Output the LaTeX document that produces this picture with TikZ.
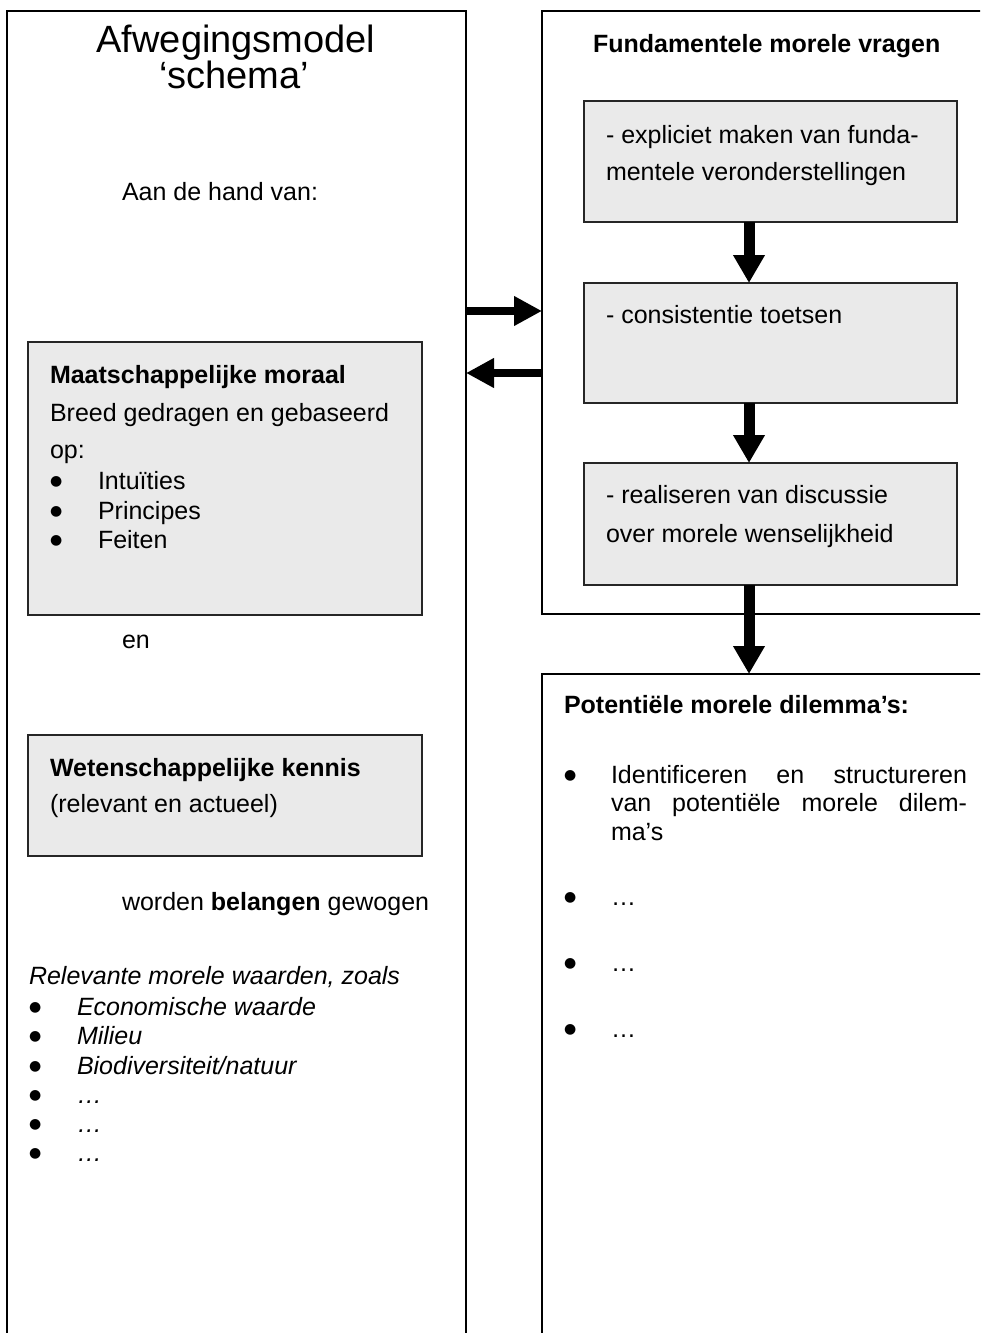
\documentclass[tikz,border=0pt]{standalone}
\usepackage{fontspec}
\setmainfont{Liberation Sans}
\newfontfamily\dejavu{DejaVu Sans}
\usetikzlibrary{arrows.meta,fit}
\definecolor{boxgray}{HTML}{EAEAEA}
\newcommand\blt{\raisebox{1.8pt}{\dejavu\fontsize{7}{8}\selectfont ●}}
\begin{document}
\begin{tikzpicture}[x=0.5pt,y=-0.5pt,
  outer/.style={draw=black,line width=1pt,inner sep=0pt,outer sep=0pt},
  graybox/.style={draw=black!85,fill=boxgray,line width=0.8pt,inner sep=0pt,outer sep=0pt},
  txt/.style={anchor=base west,inner sep=0pt,outer sep=0pt,font=\fontsize{12.5}{15}\selectfont},
  ttl/.style={anchor=base,inner sep=0pt,outer sep=0pt,font=\fontsize{19}{22}\selectfont},
  harrow/.style={line width=4pt,-{Triangle[width=14pt,length=14pt]}},
  varrow/.style={line width=5.5pt,-{Triangle[width=15pt,length=14pt]}}
]
\useasboundingbox (0,0) rectangle (980,1333);
\clip (0,0) rectangle (980,1333);
\fill[white] (0,0) rectangle (980,1333);

% outer boxes
\node[outer,fit={(7,11) (466,1345)}] (L) {};
\node[outer,fit={(542,11) (1000,614)}] (F) {};
\node[outer,fit={(542,674) (1000,1345)}] (P) {};

% left column
\node[ttl] (t1) at (236,52) {Afwegingsmodel};
\node[ttl] (t2) at (234,88) {‘schema’};
\node[txt] (adh) at (122,200) {Aan de hand van:};

\node[graybox,fit={(28,342) (422,615)}] (M) {};
\node[txt] (m1) at (50,383) {\bfseries Maatschappelijke moraal};
\node[txt] (m2) at (50,421) {Breed gedragen en gebaseerd};
\node[txt] (m3) at (50,458) {op:};
\node[txt] (mb1) at (50,489) {\blt};
\node[txt] (mi1) at (98,489) {Intuïties};
\node[txt] (mb2) at (50,519) {\blt};
\node[txt] (mi2) at (98,519) {Principes};
\node[txt] (mb3) at (50,548) {\blt};
\node[txt] (mi3) at (98,548) {Feiten};

\node[txt] (en) at (122,648) {en};

\node[graybox,fit={(28,735) (422,856)}] (W) {};
\node[txt] (w1) at (50,776) {\bfseries Wetenschappelijke kennis};
\node[txt] (w2) at (50,812) {(relevant en actueel)};

\node[txt] (wbg) at (122,910) {worden \textbf{belangen} gewogen};

\node[txt] (rel) at (29,984) {\itshape Relevante morele waarden, zoals};
\node[txt] (rb1) at (29,1015) {\blt};
\node[txt] (ri1) at (77,1015) {\itshape Economische waarde};
\node[txt] (rb2) at (29,1044) {\blt};
\node[txt] (ri2) at (77,1044) {\itshape Milieu};
\node[txt] (rb3) at (29,1074) {\blt};
\node[txt] (ri3) at (77,1074) {\itshape Biodiversiteit/natuur};
\node[txt] (rb4) at (29,1103) {\blt};
\node[txt] (ri4) at (77,1103) {\itshape …};
\node[txt] (rb5) at (29,1132) {\blt};
\node[txt] (ri5) at (77,1132) {\itshape …};
\node[txt] (rb6) at (29,1161) {\blt};
\node[txt] (ri6) at (77,1161) {\itshape …};

% right column
\node[txt] (fh) at (593,52) {\bfseries Fundamentele morele vragen};

\node[graybox,fit={(584,101) (957,222)}] (g1) {};
\node[txt] (g1a) at (606,143) {- expliciet maken van funda-};
\node[txt] (g1b) at (606,180) {mentele veronderstellingen};

\node[graybox,fit={(584,283) (957,403)}] (g2) {};
\node[txt] (g2a) at (606,323) {- consistentie toetsen};

\node[graybox,fit={(584,463) (957,585)}] (g3) {};
\node[txt] (g3a) at (606,503) {- realiseren van discussie};
\node[txt] (g3b) at (606,542) {over morele wenselijkheid};

\node[txt] (ph) at (564,713) {\bfseries Potentiële morele dilemma’s:};
\node[txt] (pb1) at (564,783) {\blt};
\node[txt] (pi1) at (611,783) {\makebox[178pt][s]{Identificeren en structureren}};
\node[txt] (pi1b) at (611,811) {\makebox[178pt][s]{van potentiële morele dilem-}};
\node[txt] (pi1c) at (611,840) {ma’s};
\node[txt] (pb2) at (564,905) {\blt};
\node[txt] (pi2) at (611,905) {…};
\node[txt] (pb3) at (564,971) {\blt};
\node[txt] (pi3) at (611,971) {…};
\node[txt] (pb4) at (564,1037) {\blt};
\node[txt] (pi4) at (611,1037) {…};

% connectors
\draw[harrow] (L.east |- 0,311) -- (F.west |- 0,311);
\draw[harrow] (F.west |- 0,373) -- (L.east |- 0,373);
\draw[varrow] (g1.south -| 749,0) -- (g2.north -| 749,0);
\draw[varrow] (g2.south -| 749,0) -- (g3.north -| 749,0);
\draw[varrow] (g3.south -| 749,0) -- (P.north -| 749,0);
\end{tikzpicture}
\end{document}
